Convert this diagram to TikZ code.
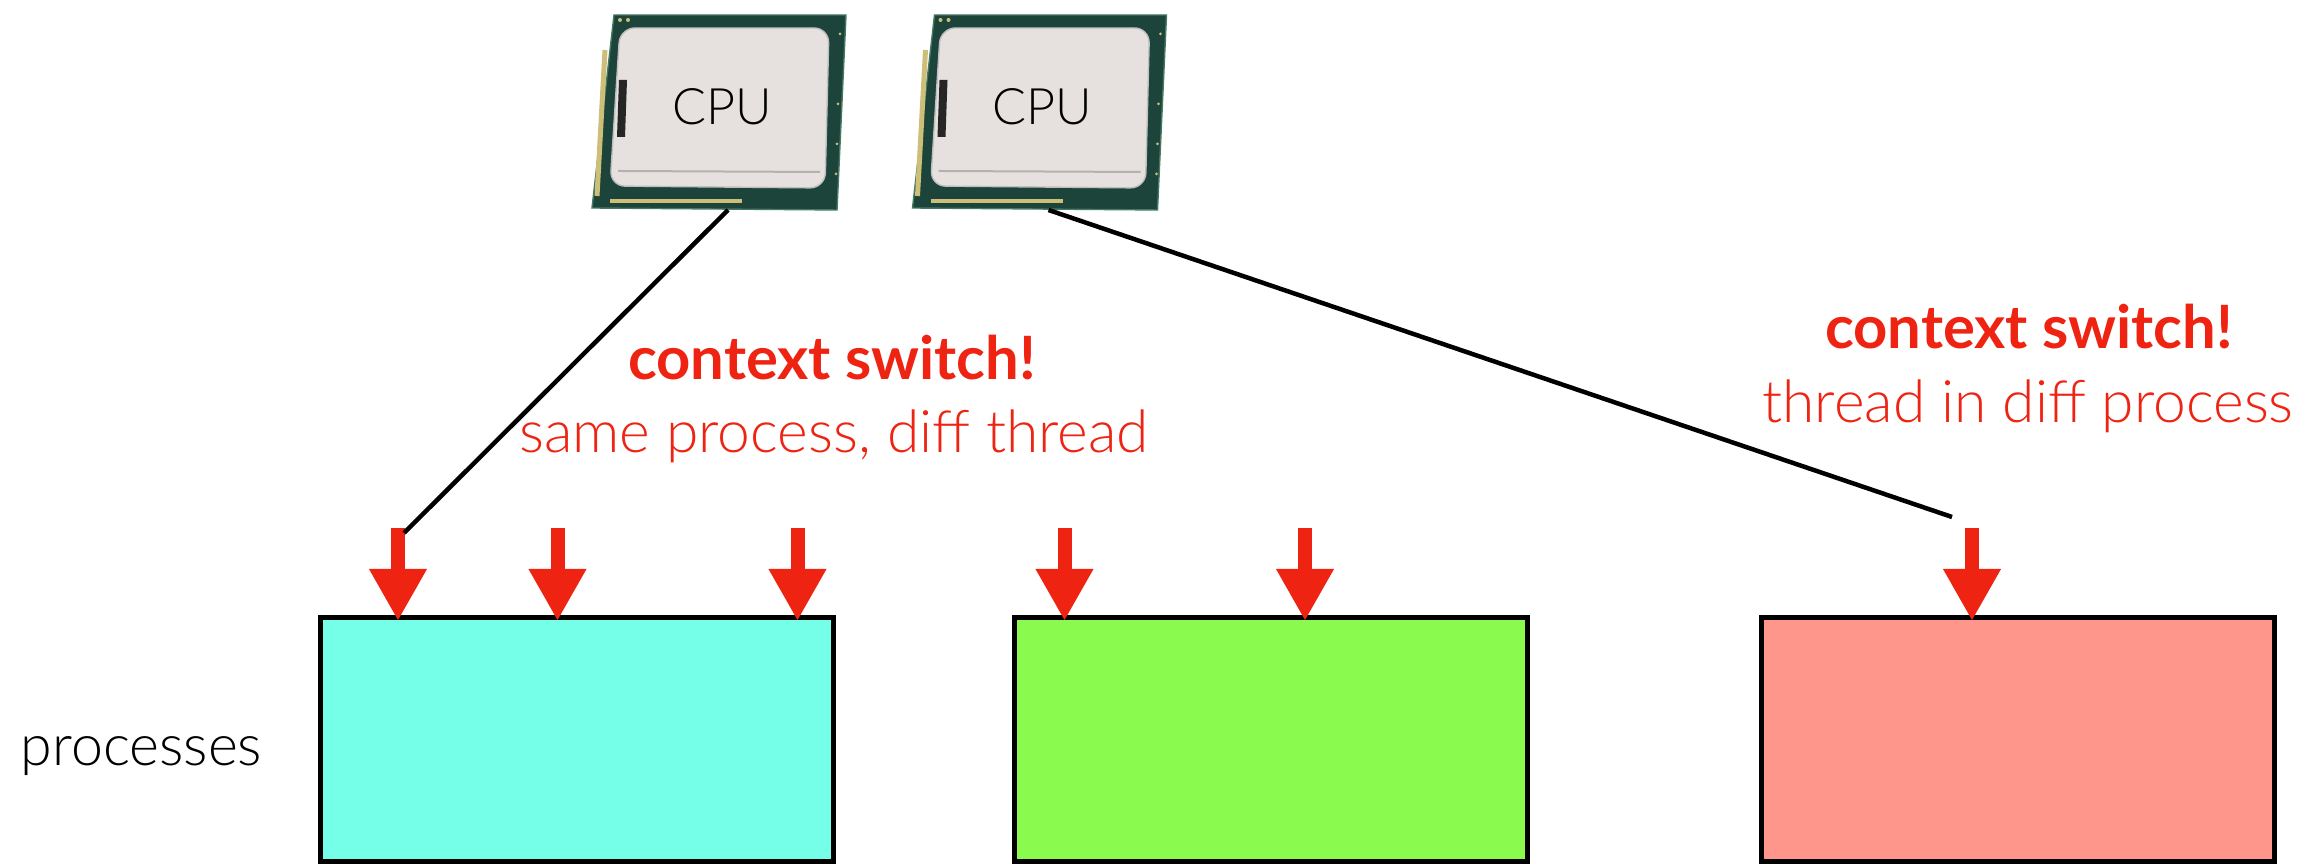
\documentclass[tikz,border=0pt]{standalone}
\usepackage{fontspec}
\setmainfont{Lato}
\newfontfamily\lightfont{Lato Light}
\usetikzlibrary{arrows.meta}
\definecolor{csred}{RGB}{238,35,17}
\definecolor{cyanfill}{RGB}{118,255,232}
\definecolor{greenfill}{RGB}{138,250,78}
\definecolor{pinkfill}{RGB}{254,150,140}
\definecolor{pcb}{RGB}{28,68,58}
\definecolor{pcbedge}{RGB}{70,120,100}
\definecolor{pins}{RGB}{205,190,120}
\definecolor{ihs}{RGB}{230,224,222}

\begin{document}
\begin{tikzpicture}[
    procbox/.style={draw=black, line width=0.05cm, minimum width=5.13cm, minimum height=2.435cm, inner sep=0, anchor=south west},
    thrarrow/.style={draw=csred, line width=0.14cm, -{Triangle[length=0.52cm, width=0.54cm]}},
    cpuline/.style={draw=black, line width=0.045cm},
    swlabel/.style={text=csred, font=\fontsize{17}{20}\selectfont\bfseries, anchor=base, inner sep=0},
    whylabel/.style={text=csred, font=\lightfont\fontsize{16.7}{20}\selectfont, anchor=base, inner sep=0},
    cpulabel/.style={font=\lightfont\fontsize{14.3}{16}\selectfont, inner sep=0}
  ]
    \useasboundingbox (0,0) rectangle (23.15,8.64);
    % first cpu
    \filldraw [draw=pcbedge, fill=pcb] (6.14,8.49) -- (8.46,8.49) -- (8.37,6.54) -- (5.92,6.56) -- cycle;
    \draw [pins, line width=0.05cm] (6.05,8.14) -- (5.97,6.68);
    \draw [pins, line width=0.035cm] (6.10,6.63) -- (7.42,6.63);
    \filldraw [draw=gray!50, fill=ihs, rounded corners=0.15cm] (6.20,8.36) -- (8.29,8.36) -- (8.25,6.76) -- (6.10,6.78) -- cycle;
    \draw [gray!60, line width=0.02cm] (6.18,6.93) -- (8.20,6.92);
    \fill [black!85] (6.19,7.84) -- (6.27,7.84) -- (6.25,7.27) -- (6.17,7.27) -- cycle;
    \fill [pins] (6.20,8.44) circle (0.02) (6.28,8.44) circle (0.02) (8.40,8.30) circle (0.015) (8.38,7.60) circle (0.015) (8.37,7.20) circle (0.015) (8.36,6.90) circle (0.015);
    \node [cpulabel] (cpuA) at (7.22,7.57) {CPU};
    \coordinate (cpuAfoot) at (7.28,6.54);
    % second cpu
    \begin{scope}[xshift=3.205cm]
    \filldraw [draw=pcbedge, fill=pcb] (6.14,8.49) -- (8.46,8.49) -- (8.37,6.54) -- (5.92,6.56) -- cycle;
    \draw [pins, line width=0.05cm] (6.05,8.14) -- (5.97,6.68);
    \draw [pins, line width=0.035cm] (6.10,6.63) -- (7.42,6.63);
    \filldraw [draw=gray!50, fill=ihs, rounded corners=0.15cm] (6.20,8.36) -- (8.29,8.36) -- (8.25,6.76) -- (6.10,6.78) -- cycle;
    \draw [gray!60, line width=0.02cm] (6.18,6.93) -- (8.20,6.92);
    \fill [black!85] (6.19,7.84) -- (6.27,7.84) -- (6.25,7.27) -- (6.17,7.27) -- cycle;
    \fill [pins] (6.20,8.44) circle (0.02) (6.28,8.44) circle (0.02) (8.40,8.30) circle (0.015) (8.38,7.60) circle (0.015) (8.37,7.20) circle (0.015) (8.36,6.90) circle (0.015);
    \end{scope}
    \node [cpulabel] (cpuB) at (10.425,7.57) {CPU};
    \coordinate (cpuBfoot) at (10.485,6.54);
    %
    \node [procbox, fill=cyanfill] (procA) at (3.175,0) {};
    \node [procbox, fill=greenfill] (procB) at (10.12,0) {};
    \node [procbox, fill=pinkfill] (procC) at (17.585,0) {};
    \node [anchor=base west, inner sep=0, font=\lightfont\fontsize{16.3}{20}\selectfont] (procs) at (0.20,0.98) {processes};
    %
    \draw [thrarrow] (3.98,3.36) -- (3.98,2.43);
    \draw [thrarrow] (5.575,3.36) -- (5.575,2.43);
    \draw [thrarrow] (7.975,3.36) -- (7.975,2.43);
    \draw [thrarrow] (10.645,3.36) -- (10.645,2.43);
    \draw [thrarrow] (13.05,3.36) -- (13.05,2.43);
    \draw [thrarrow] (19.72,3.36) -- (19.72,2.43);
    %
    \coordinate (endA) at (4.04,3.31);
    \coordinate (endB) at (19.52,3.47);
    \draw [cpuline] (cpuAfoot) -- (endA);
    \draw [cpuline] (cpuBfoot) -- (endB);
    %
    \node [swlabel] (swA) at (8.32,4.84) {context switch!};
    \node [whylabel] (whyA) at (8.34,4.11) {same process, diff thread};
    \node [swlabel] (swB) at (20.29,5.15) {context switch!};
    \node [whylabel] (whyB) at (20.28,4.41) {thread in diff process};
\end{tikzpicture}
\end{document}
